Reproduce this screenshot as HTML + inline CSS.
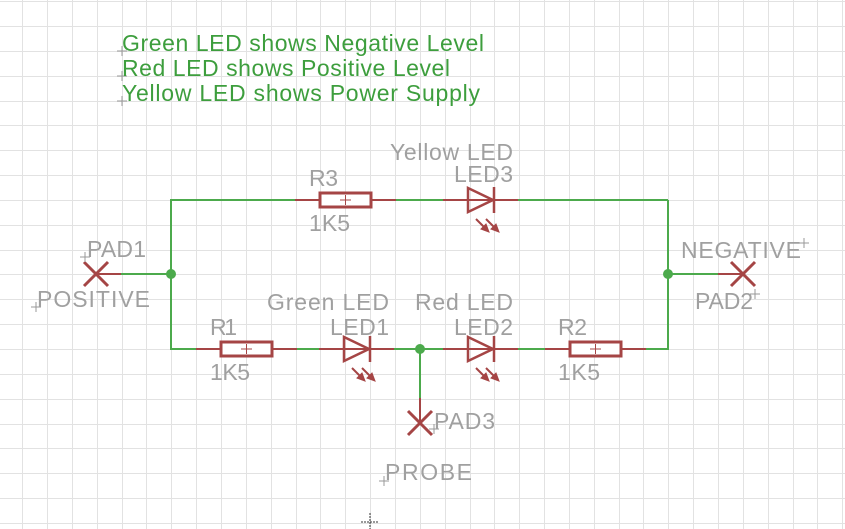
<!DOCTYPE html>
<html><head><meta charset="utf-8"><style>
html,body{margin:0;padding:0;background:#fff;}
svg{display:block}
text{font-family:"Liberation Sans",sans-serif;font-size:23px;}
.g{fill:#a0a0a0}
.t{fill:#3d9e3d}
</style></head><body>
<svg width="845" height="529" viewBox="0 0 845 529" xmlns="http://www.w3.org/2000/svg">
<defs>
<g id="led">
<path d="M-26 0H49" stroke="#a54545" stroke-width="2" fill="none"/>
<path d="M-1 -12L24 0L-1 12Z" stroke="#a54545" stroke-width="2.5" fill="none"/>
<path d="M25 -13V13" stroke="#a54545" stroke-width="2.5"/>
<path d="M7 19L18 30M17 19L28 30" stroke="#a54545" stroke-width="2"/>
<path d="M20 32L12 29L17 24Z M30 32L22 29L27 24Z" fill="#a54545" stroke="#a54545" stroke-width="1"/>
</g>
<g id="res">
<path d="M-25 0H76" stroke="#a54545" stroke-width="2"/>
<rect x="0" y="-7" width="51" height="14" fill="#fff" stroke="#a54545" stroke-width="3"/>
<path d="M20 0H31M25.5 -5V5" stroke="#a54545" stroke-width="1"/>
</g>
<g id="pad">
<path d="M-12 -12L12 12M12 -12L-12 12" stroke="#a54545" stroke-width="3"/>
</g>
<g id="pl"><path d="M-5 0H5M0 -5V5" stroke="#999" stroke-width="1"/></g>
</defs>
<rect width="845" height="529" fill="#fff"/>
<path shape-rendering="crispEdges" stroke="#e2e2e2" stroke-width="1" fill="none" d="
M22.5 0V529M47.5 0V529M72.5 0V529M97.5 0V529M122.5 0V529M146.5 0V529M171.5 0V529M196.5 0V529M221.5 0V529M246.5 0V529M271.5 0V529M296.5 0V529M320.5 0V529M345.5 0V529M370.5 0V529M395.5 0V529M420.5 0V529M445.5 0V529M470.5 0V529M494.5 0V529M519.5 0V529M544.5 0V529M569.5 0V529M594.5 0V529M619.5 0V529M643.5 0V529M668.5 0V529M693.5 0V529M718.5 0V529M743.5 0V529M768.5 0V529M793.5 0V529M817.5 0V529M842.5 0V529
M0 1.5H845M0 26.5H845M0 51.5H845M0 76.5H845M0 101.5H845M0 125.5H845M0 150.5H845M0 175.5H845M0 200.5H845M0 225.5H845M0 250.5H845M0 274.5H845M0 299.5H845M0 324.5H845M0 349.5H845M0 374.5H845M0 399.5H845M0 424.5H845M0 448.5H845M0 473.5H845M0 498.5H845M0 523.5H845"/>

<g stroke="#4caa4c" stroke-width="2" fill="none">
<path d="M668 200H171V349H668V200"/>
<path d="M121 274H171"/>
<path d="M668 274H718"/>
<path d="M420 349V398"/>
</g>
<circle cx="171" cy="274" r="5" fill="#4caa4c"/>
<circle cx="668" cy="274" r="5" fill="#4caa4c"/>
<circle cx="420" cy="349" r="5" fill="#4caa4c"/>

<g stroke="#a54545" stroke-width="2">
<path d="M96 274H121"/>
<path d="M718 274H743"/>
<path d="M420 398V423"/>
</g>

<use href="#res" x="320" y="200"/>
<use href="#res" x="221" y="349"/>
<use href="#res" x="570" y="349"/>
<use href="#led" x="469" y="200"/>
<use href="#led" x="345" y="349"/>
<use href="#led" x="469" y="349"/>
<use href="#pad" x="96" y="274"/>
<use href="#pad" x="743" y="274"/>
<use href="#pad" x="420" y="423"/>

<use href="#pl" x="122" y="51"/>
<use href="#pl" x="122" y="76"/>
<use href="#pl" x="122" y="101"/>
<use href="#pl" x="85" y="257"/>
<use href="#pl" x="36" y="307"/>
<use href="#pl" x="804" y="243"/>
<use href="#pl" x="755" y="294"/>
<use href="#pl" x="434" y="429"/>
<use href="#pl" x="384" y="481"/>
<path d="M361 522H379M370 513V529" stroke="#333" stroke-width="1" stroke-dasharray="2 1"/>

<text class="t" x="122" y="51" textLength="362">Green LED shows Negative Level</text>
<text class="t" x="122" y="76" textLength="328">Red LED shows Positive Level</text>
<text class="t" x="122" y="101" textLength="358">Yellow LED shows Power Supply</text>

<text class="g" x="390" y="160" textLength="123">Yellow LED</text>
<text class="g" x="454" y="182" textLength="59">LED3</text>
<text class="g" x="309" y="186" textLength="29">R3</text>
<text class="g" x="309" y="231" textLength="41">1K5</text>
<text class="g" x="87" y="257" textLength="59">PAD1</text>
<text class="g" x="37" y="307" textLength="113">POSITIVE</text>
<text class="g" x="267" y="310" textLength="122">Green LED</text>
<text class="g" x="330" y="335" textLength="59">LED1</text>
<text class="g" x="415" y="310" textLength="98">Red LED</text>
<text class="g" x="454" y="335" textLength="59">LED2</text>
<text class="g" x="210" y="335" textLength="27">R1</text>
<text class="g" x="210" y="380" textLength="40">1K5</text>
<text class="g" x="558" y="335" textLength="29">R2</text>
<text class="g" x="558" y="380" textLength="42">1K5</text>
<text class="g" x="681" y="258" textLength="120">NEGATIVE</text>
<text class="g" x="695" y="309" textLength="58">PAD2</text>
<text class="g" x="434" y="429" textLength="61">PAD3</text>
<text class="g" x="385" y="480" textLength="87">PROBE</text>
</svg>
</body></html>
